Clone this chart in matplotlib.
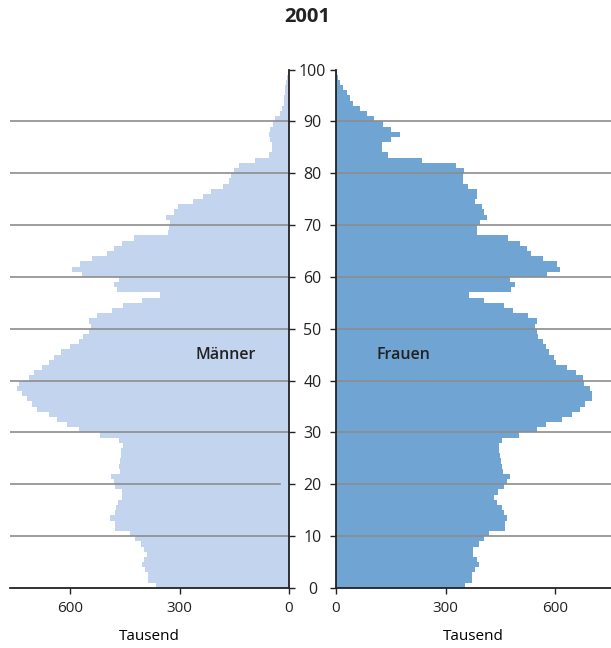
import matplotlib
matplotlib.use("Agg")
import matplotlib.pyplot as plt
import numpy as np

# Data: population by single year of age, in thousands (2001)
ages = np.arange(0, 100)

maenner = [366, 386, 386, 396, 403, 398, 389, 398, 407, 421,
           435, 476, 476, 490, 476, 473, 469, 458, 458, 476,
           480, 487, 464, 467, 464, 462, 462, 455, 467, 519,
           576, 608, 636, 658, 690, 704, 718, 731, 745, 741,
           713, 700, 677, 658, 645, 626, 601, 576, 564, 549,
           544, 549, 526, 485, 456, 403, 353, 471, 480, 467,
           567, 595, 573, 539, 499, 481, 458, 424, 333, 330,
           326, 337, 314, 303, 264, 237, 215, 180, 165, 160,
           152, 136, 93, 54, 47, 47, 52, 56, 52, 43,
           38, 26, 19, 15, 14, 12, 10, 7, 5, 4]

frauen = [352, 372, 372, 381, 392, 385, 374, 376, 392, 405,
          419, 463, 463, 468, 459, 454, 440, 434, 443, 461,
          468, 477, 458, 454, 451, 449, 445, 447, 454, 500,
          550, 575, 618, 646, 667, 682, 700, 700, 696, 679,
          676, 657, 632, 603, 597, 584, 574, 566, 552, 550,
          545, 550, 527, 486, 460, 404, 363, 479, 489, 477,
          577, 612, 606, 566, 533, 522, 504, 470, 385, 385,
          395, 413, 404, 399, 381, 385, 385, 361, 347, 349,
          351, 328, 235, 143, 125, 125, 151, 174, 151, 130,
          104, 84, 66, 47, 38, 29, 18, 11, 6, 4]

age_ticks = [0, 10, 20, 30, 40, 50, 60, 70, 80, 90, 100]
x_ticks = [0, 300, 600]

color_m = '#c2d4ee'
color_f = '#70a5d3'
grid_color = '#8c8c8c'
spine_color = '#222222'

plt.rcParams['font.family'] = ['Open Sans', 'DejaVu Sans']
plt.rcParams['font.size'] = 11

W, H = 611, 648
fig = plt.figure(figsize=(W / 100, H / 100), dpi=100)

# axes positions in pixels
y_bot, y_top = 588, 69.5
ax_m = fig.add_axes([10 / W, (H - y_bot) / H, (289 - 10) / W, (y_bot - y_top) / H])
ax_f = fig.add_axes([336 / W, (H - y_bot) / H, (611 - 336) / W, (y_bot - y_top) / H])

#++++++++++++++++++++++++++++++++++++++++++++++++++++++++++++++++++++++++++++++#
# Maenner (left)
ax_m.barh(ages, maenner, height=1, align='edge', color=color_m, linewidth=0, zorder=2)
ax_m.set_xlim(765, 0)
ax_m.set_ylim(0, 100)
ax_m.yaxis.tick_right()
ax_m.set_yticks(age_ticks)
ax_m.set_yticklabels([])
ax_m.set_xticks(x_ticks)
ax_m.set_xlabel('Tausend', labelpad=9)
ax_m.text(173, 45, 'Männer', ha='center', va='center', fontsize=11.5,
          fontweight='semibold', color='#222222', zorder=4)

# Frauen (right)
ax_f.barh(ages, frauen, height=1, align='edge', color=color_f, linewidth=0, zorder=2)
ax_f.set_xlim(0, 753)
ax_f.set_ylim(0, 100)
ax_f.set_yticks(age_ticks)
ax_f.set_yticklabels([str(a) for a in age_ticks], ha='center')
ax_f.tick_params(axis='y', pad=12.5, labelsize=11.5)
ax_f.set_xticks(x_ticks)
ax_f.set_xlabel('Tausend', labelpad=9)
ax_f.text(184, 45, 'Frauen', ha='center', va='center', fontsize=11.5,
          fontweight='semibold', color='#222222', zorder=4)

for ax, side in [(ax_m, 'right'), (ax_f, 'left')]:
    for s in ['top', 'left', 'right', 'bottom']:
        ax.spines[s].set_visible(False)
    ax.spines[side].set_visible(True)
    ax.spines['bottom'].set_visible(True)
    for s in [side, 'bottom']:
        ax.spines[s].set_color(spine_color)
        ax.spines[s].set_linewidth(1.3)
        ax.spines[s].set_zorder(5)
    ax.tick_params(length=4.5, width=1, color=spine_color, labelcolor='#222222')
    ax.tick_params(axis='x', pad=5)
    # horizontal grid lines drawn above the bars
    for a in age_ticks[1:-1]:
        # the 20 line on the men's side stops a little short of the axis
        xmax = 0.968 if (ax is ax_m and a == 20) else 1
        ax.axhline(a, xmax=xmax, color=grid_color, linewidth=1.2, zorder=3)
    ax.set_facecolor('none')

fig.text(307 / W, 1 - 17 / H, '2001', ha='center', va='center',
         fontsize=14.5, fontweight='bold', color='#222222')

plt.savefig('out.png', dpi=100)
